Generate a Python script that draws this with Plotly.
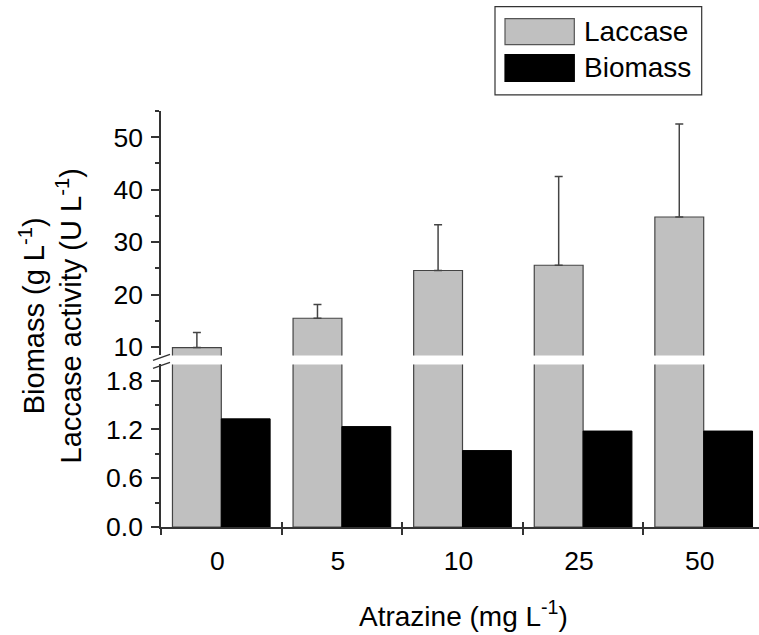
import plotly.graph_objects as go

# ---- data ----
atrazine = ['0', '5', '10', '25', '50']
laccase = [9.9, 15.5, 24.6, 25.6, 34.8]
laccase_err = [2.9, 2.6, 8.7, 16.9, 17.7]
biomass = [1.33, 1.235, 0.94, 1.18, 1.18]
low_ticks = [0.0, 0.6, 1.2, 1.8]
low_ticktext = ['0.0', '0.6', '1.2', '1.8']
low_minor = [0.3, 0.9, 1.5]
up_ticks = [10, 20, 30, 40, 50]
up_minor = [15, 25, 35, 45, 55]

# ---- geometry helpers (screen pixel -> paper) ----
W, H = 759, 635
ML, MR, MT, MB = 161, 0, 110.5, 108.3
PW = W - ML - MR
PH = H - MT - MB


def px(x):
    return (x - ML) / PW


def py(y):
    return (H - MB - y) / PH


xpos = list(range(len(atrazine)))
bounds = [i - 0.5 for i in range(len(atrazine))]

FONT = 'Liberation Sans, Arial, sans-serif'
AX = '#333333'
GRAY = '#c0c0c0'
BW = 0.405

fig = go.Figure()
# lower panel
fig.add_trace(go.Bar(x=xpos, y=laccase, xaxis='x', yaxis='y', offset=-BW, width=BW,
                     marker=dict(color=GRAY, line=dict(color='#444444', width=1.2)),
                     name='Laccase', showlegend=False))
fig.add_trace(go.Bar(x=xpos, y=biomass, xaxis='x', yaxis='y', offset=0, width=BW,
                     marker=dict(color='#000000', line=dict(color='#000000', width=1)),
                     name='Biomass', showlegend=False))
# upper panel
fig.add_trace(go.Bar(x=xpos, y=laccase, xaxis='x', yaxis='y2', offset=-BW, width=BW,
                     marker=dict(color=GRAY, line=dict(color='#444444', width=1.2)),
                     error_y=dict(type='data', array=laccase_err, arrayminus=[0] * len(laccase),
                                  symmetric=False, color='#444444', thickness=1.5, width=4),
                     name='Laccase', showlegend=False))
# helper invisible trace for the inside tick axis
fig.add_trace(go.Scatter(x=[0], y=[0], xaxis='x3', yaxis='y', mode='markers',
                         marker=dict(opacity=0), showlegend=False, hoverinfo='skip'))

xr = [-0.5, -0.5 + PW / 120.6]
tickfont = dict(family=FONT, size=26.5, color='#000000')

fig.update_layout(
    width=W, height=H,
    margin=dict(l=ML, r=MR, t=MT, b=MB, pad=0),
    paper_bgcolor='white', plot_bgcolor='white',
    barmode='overlay',
    showlegend=False,
    xaxis=dict(range=xr, tickmode='array', tickvals=xpos, ticktext=atrazine, ticks='',
               showline=True, linecolor=AX, linewidth=1.5, showgrid=False, zeroline=False,
               anchor='y', tickfont=tickfont, ticklabelstandoff=9, ticklabelshift=-4,
               minor=dict(tickmode='array', tickvals=bounds, ticks='outside', ticklen=6,
                          tickwidth=1.5, tickcolor=AX, showgrid=False)),
    xaxis3=dict(range=xr, overlaying='x', anchor='y', tickmode='array', tickvals=bounds[1:],
                ticks='inside', ticklen=5, tickwidth=1.5, tickcolor=AX, showticklabels=False,
                showline=False, showgrid=False, zeroline=False),
    yaxis=dict(domain=[0, py(364)], range=[0, 2.0], tickmode='array', tickvals=low_ticks,
               ticktext=low_ticktext, ticks='outside', ticklen=8, tickwidth=1.5, tickcolor=AX,
               showline=True, linecolor=AX, linewidth=1.5, showgrid=False, zeroline=False,
               anchor='x', tickfont=tickfont, ticklabelstandoff=3,
               minor=dict(tickmode='array', tickvals=low_minor, ticks='outside', ticklen=4,
                          tickwidth=1.5, tickcolor=AX, showgrid=False)),
    yaxis2=dict(domain=[py(355), 1], range=[10 - 8.3 / 5.249, 55], tickmode='array',
                tickvals=up_ticks, ticks='outside', ticklen=8, tickwidth=1.5, tickcolor=AX,
                showline=True, linecolor=AX, linewidth=1.5, showgrid=False, zeroline=False,
                anchor='x', tickfont=tickfont, ticklabelstandoff=3,
                minor=dict(tickmode='array', tickvals=up_minor, ticks='outside', ticklen=4,
                           tickwidth=1.5, tickcolor=AX, showgrid=False)),
)

shapes = []
# axis break marks
for yc in (357, 365):
    shapes.append(dict(type='line', xref='paper', yref='paper',
                       x0=px(153), y0=py(yc + 3), x1=px(170), y1=py(yc - 3),
                       line=dict(color=AX, width=1.5)))
# legend box and swatches
shapes.append(dict(type='rect', xref='paper', yref='paper', x0=px(495), x1=px(701.7),
                   y0=py(94.3), y1=py(6), line=dict(color=AX, width=1.2), fillcolor='white'))
shapes.append(dict(type='rect', xref='paper', yref='paper', x0=px(505), x1=px(574.3),
                   y0=py(44), y1=py(18), line=dict(color='#555555', width=1.2), fillcolor=GRAY))
shapes.append(dict(type='rect', xref='paper', yref='paper', x0=px(505), x1=px(574.3),
                   y0=py(81), y1=py(54), line=dict(color='#000000', width=1.2), fillcolor='#000000'))
fig.update_layout(shapes=shapes)

ann = []
ann.append(dict(text='Laccase', xref='paper', yref='paper', x=px(582), y=py(31),
                xanchor='left', yanchor='middle', showarrow=False,
                font=dict(family=FONT, size=28, color='#000000')))
ann.append(dict(text='Biomass', xref='paper', yref='paper', x=px(582), y=py(67),
                xanchor='left', yanchor='middle', showarrow=False,
                font=dict(family=FONT, size=28, color='#000000')))
ann.append(dict(text='Atrazine (mg L<sup>-1</sup>)', xref='paper', yref='paper',
                x=px(463), y=py(614), xanchor='center', yanchor='middle', showarrow=False,
                font=dict(family=FONT, size=28, color='#000000')))
ann.append(dict(text='Biomass (g L<sup>-1</sup>)<br>Laccase activity (U L<sup>-1</sup>)',
                xref='paper', yref='paper', x=px(51), y=py(316), textangle=-90,
                xanchor='center', yanchor='middle', showarrow=False,
                font=dict(family=FONT, size=29, color='#000000')))
fig.update_layout(annotations=ann)

fig.write_html('out.html', config={'displayModeBar': False},
               post_script="document.body.style.margin='0';")
